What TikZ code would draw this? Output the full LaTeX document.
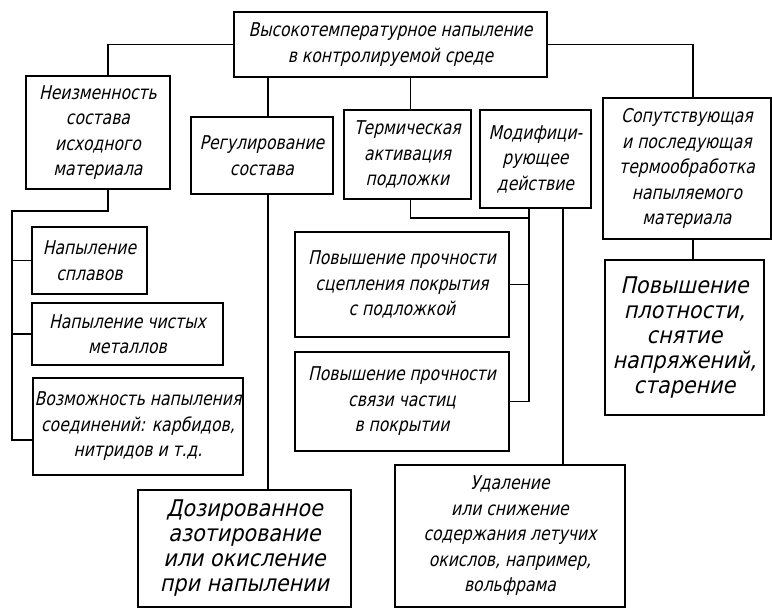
\documentclass[tikz,border=0pt]{standalone}
\usepackage{fontspec}
\newfontfamily\gost{DejaVu Sans}[FakeStretch=0.82, FakeSlant=0.22]
\newfontfamily\gostwide{DejaVu Sans}[FakeStretch=0.9, FakeSlant=0.22]
\newcommand\txtS{\gost\fontsize{19}{25.5}\selectfont}
\newcommand\txtL{\gostwide\fontsize{23}{25}\selectfont}
\tikzset{
  box/.style={draw, line width=1.7pt, inner sep=0pt, align=center, font=\txtS},
  bigbox/.style={box, font=\txtL},
  conn/.style={line width=1.7pt},
}
\newcommand\boxat[7]{% style, name, cx, cy, w, h, text
  \node[#1, minimum width=#5pt, minimum height=#6pt] (#2) at (#3,#4) {#7};}
\begin{document}
\begin{tikzpicture}[x=1pt, y=-1pt]
\useasboundingbox (0,0) rectangle (772,609);

% boxes
\boxat{box}{top}{390.5}{44.5}{313}{65}{Высокотемпературное напыление\\в контролируемой среде}
\boxat{box}{nei}{98}{132.5}{144}{113}{Неизменность\\состава\\исходного\\материала}
\boxat{box}{reg}{262}{155.5}{142}{77}{Регулирование\\состава}
\boxat{box}{term}{407.5}{154.5}{127}{89}{Термическая\\активация\\подложки}
\boxat{box}{mod}{535.5}{159}{111}{98}{Модифици-\\рующее\\действие}
\boxat{box}{sop}{687}{168.5}{168}{141}{Сопутствующая\\и последующая\\термообработка\\напыляемого\\материала}
\boxat{bigbox}{pl}{684.5}{337.5}{159}{155}{Повышение\\плотности,\\снятие\\напряжений,\\старение}
\boxat{box}{sc}{402}{284.5}{214}{105}{Повышение прочности\\сцепления покрытия\\с подложкой}
\boxat{box}{sv}{402}{401.5}{214}{99}{Повышение прочности\\связи частиц\\в покрытии}
\boxat{box}{ud}{510}{536}{230}{142}{Удаление\\или снижение\\содержания летучих\\окислов, например,\\вольфрама}
\boxat{bigbox}{doz}{244.5}{548.5}{213}{117}{Дозированное\\азотирование\\или окисление\\при напылении}
\boxat{box}{spl}{89.5}{260.5}{115}{67}{Напыление\\сплавов}
\boxat{box}{chm}{127.5}{334}{191}{62}{Напыление чистых\\металлов}
\boxat{box}{voz}{138}{426.5}{210}{97}{Возможность напыления\\соединений: карбидов,\\нитридов и т.д.}

% spine points
\coordinate (nx) at ([xshift=10pt]nei.north);
\coordinate (nb) at ([xshift=10pt]nei.south);
\coordinate (lsp) at (12,211);
\coordinate (lend) at (12,440);
\coordinate (rx) at ([xshift=6pt]reg.north);
\coordinate (rb) at ([xshift=6pt]reg.south);
\coordinate (tx) at ([xshift=3pt]term.north);
\coordinate (tb) at ([xshift=3pt]term.south);
\coordinate (m1) at ([xshift=-6.5pt]mod.south);
\coordinate (m2) at ([xshift=27.5pt]mod.south);
\coordinate (tj) at (529,218);
\coordinate (sx) at ([xshift=6pt]sop.north);

% connectors
\draw[conn] (top.west) -| (nx);
\draw[conn] (nb) |- (lsp) -- (lend) -- (lend -| voz.west);
\draw[conn] (spl.west) -- (spl.west -| lsp);
\draw[conn] (chm.west) -- (chm.west -| lsp);
\draw[conn] (rx |- top.south) -- (rx);
\draw[conn] (rb) -- (rb |- doz.north);
\draw[conn] (tx |- top.south) -- (tx);
\draw[conn] (tb) |- (tj);
\draw[conn] (m1) -- (m1 |- sv.east) -- (sv.east);
\draw[conn] (sc.east) -- (sc.east -| m1);
\draw[conn] (m2) -- (m2 |- ud.north);
\draw[conn] (top.east) -| (sx);
\draw[conn] (sx |- sop.south) -- (sx |- pl.north);
\end{tikzpicture}
\end{document}
